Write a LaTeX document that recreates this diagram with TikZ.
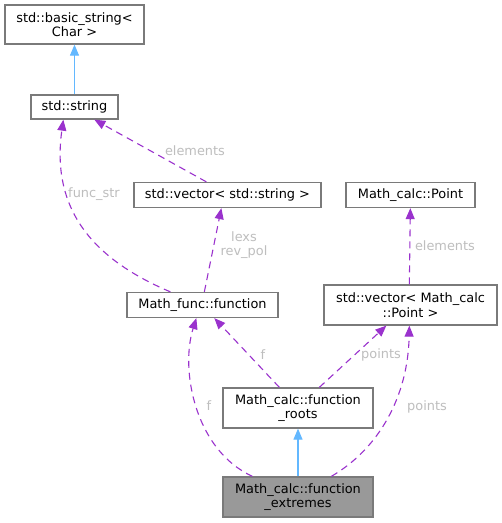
\documentclass[tikz,border=0pt]{standalone}
\usepackage{fontspec}
\setmainfont{DejaVu Sans}
\usetikzlibrary{arrows.meta,calc}
\definecolor{edgepurple}{HTML}{9A32CD}
\definecolor{edgeblue}{HTML}{63B8FF}
\definecolor{boxborder}{HTML}{7A7A7A}
\definecolor{labelgrey}{HTML}{BEBEBE}
\definecolor{curfill}{HTML}{999999}
\tikzset{
  cls/.style={draw=boxborder, line width=1.3pt, fill=white, inner sep=0pt, align=center,
    font=\fontsize{12.9}{14.5}\selectfont, text=black},
  cur/.style={cls, fill=curfill},
  usage/.style={draw=edgepurple, line width=1.1pt, dash pattern=on 7pt off 5pt,
    -{Triangle[length=11pt,width=9pt,fill=edgepurple]}},
  inherit/.style={draw=edgeblue, line width=1.1pt,
    -{Triangle[length=11pt,width=9pt,fill=edgeblue]}},
  lbl/.style={text=labelgrey, inner sep=0pt, align=center,
    font=\fontsize{12.9}{14.5}\selectfont},
}
\begin{document}
\begin{tikzpicture}[x=1pt,y=-1pt]
\useasboundingbox[fill=white] (0,0) rectangle (502,523);
% nodes
\node[cls, minimum width=139pt, minimum height=39pt] (bs) at (74.5,24.5) {std::basic\_string<\\Char >};
\node[cls, minimum width=87pt, minimum height=24pt] (str) at (74.5,107) {std::string};
\node[cls, minimum width=187pt, minimum height=25pt] (vstr) at (227.5,195) {std::vector< std::string >};
\node[cls, minimum width=129pt, minimum height=25pt] (pt) at (410.5,195) {Math\_calc::Point};
\node[cls, minimum width=151pt, minimum height=25pt] (fn) at (202.5,305) {Math\_func::function};
\node[cls, minimum width=173pt, minimum height=40pt] (vpt) at (410.5,305) {std::vector< Math\_calc\\::Point >};
\node[cls, minimum width=150pt, minimum height=40pt] (roots) at (298,408) {Math\_calc::function\\\_roots};
\node[cur, minimum width=150pt, minimum height=40pt] (ext) at (298,497) {Math\_calc::function\\\_extremes};
% labels
\node[lbl] (l1) at (195,151) {elements};
\node[lbl] (l2) at (94,194) {func\_str};
\node[lbl] (l3) at (244,245) {lexs\\rev\_pol};
\node[lbl] (l4) at (445,246) {elements};
\node[lbl] (l5) at (263,355) {f};
\node[lbl] (l6) at (381,355) {points};
\node[lbl] (l7) at (209,406) {f};
\node[lbl] (l8) at (427,407) {points};
% edges
\draw[inherit] (str.north) -- (bs.south);
\draw[inherit] (ext.north) -- (roots.south);
\draw[usage] ($(vstr.north west)+(73,0)$) -- ($(str.south west)+(64,0)$);
\draw[usage] ($(fn.north west)+(44,0)$) .. controls (100,262) and (50,215) .. ($(str.south west)+(33,0)$);
\draw[usage] ($(fn.north west)+(78,0)$) -- ($(vstr.south west)+(88,0)$);
\draw[usage] ($(vpt.north west)+(86,0)$) -- ($(pt.south west)+(65,0)$);
\draw[usage] ($(roots.north west)+(57,0)$) -- ($(fn.south west)+(88,0)$);
\draw[usage] ($(roots.north west)+(97,0)$) -- ($(vpt.south west)+(63,0)$);
\draw[usage] ($(ext.north west)+(30,0)$) .. controls (195,450) and (180,370) .. ($(fn.south west)+(70,0)$);
\draw[usage] ($(ext.north west)+(109,0)$) .. controls (380,448) and (408,395) .. ($(vpt.south west)+(86,0)$);
\end{tikzpicture}
\end{document}
